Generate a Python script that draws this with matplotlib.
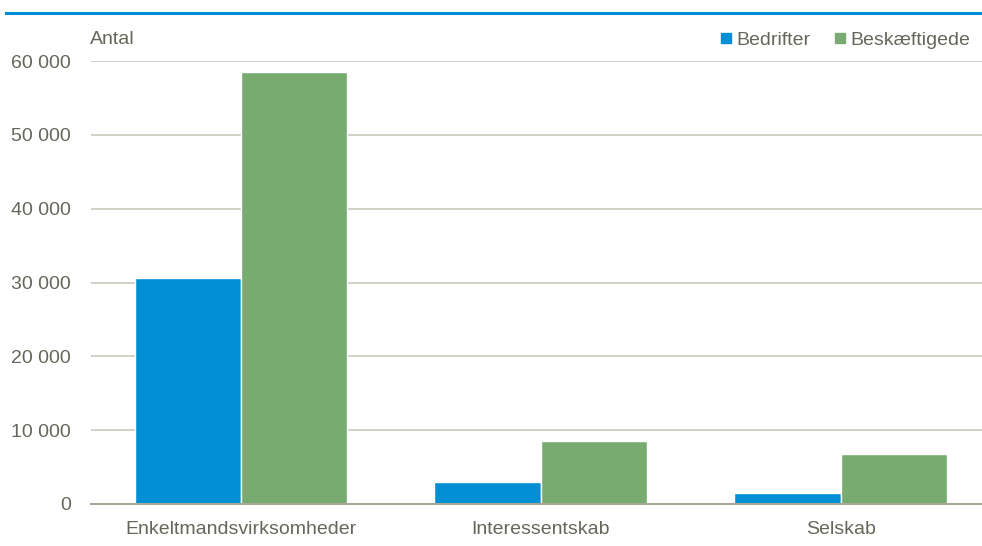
import matplotlib
matplotlib.use("Agg")
import matplotlib.pyplot as plt
from matplotlib.lines import Line2D
import numpy as np

categories = ["Enkeltmandsvirksomheder", "Interessentskab", "Selskab"]
bedrifter = [30600, 3000, 1500]
beskaeftigede = [58500, 8550, 6800]
yticks = [0, 10000, 20000, 30000, 40000, 50000, 60000]
ytick_labels = ["0", "10 000", "20 000", "30 000", "40 000", "50 000", "60 000"]

plt.rcParams['font.family'] = ['Liberation Sans Narrow', 'Liberation Sans', 'DejaVu Sans']

BLUE = "#008fd5"
GREEN = "#77ab70"
TXT = "#66665a"
GRID = "#c9c9bd"
FS = 14

W, H = 982, 546
fig = plt.figure(figsize=(W / 100, H / 100), dpi=100)
left, right = 91 / W, 982 / W
bottom, top = 1 - 504 / H, 1 - 61 / H
ax = fig.add_axes([left, bottom, right - left, top - bottom])

x = np.arange(len(categories))
bw = 0.355
ax.bar(x - bw / 2, bedrifter, bw, color=BLUE, edgecolor="white", linewidth=1.0, zorder=3)
ax.bar(x + bw / 2, beskaeftigede, bw, color=GREEN, edgecolor="white", linewidth=1.0, zorder=3)

ax.set_xlim(-0.5, -0.5 + (982 - 91) / 300)
ax.set_ylim(0, 60000)
ax.set_yticks(yticks)
ax.set_yticklabels(ytick_labels)
ax.set_xticks(x)
ax.set_xticklabels(categories)
ax.tick_params(axis="y", length=0, pad=14.4, labelsize=FS, labelcolor=TXT)
ax.tick_params(axis="x", length=0, pad=12.5, labelsize=FS, labelcolor=TXT)
ax.grid(axis="y", color=GRID, linewidth=1.2, zorder=0)
for s in ["top", "right", "left"]:
    ax.spines[s].set_visible(False)
ax.spines["bottom"].set_color("#a8a89a")
ax.spines["bottom"].set_linewidth(1.5)
ax.spines["bottom"].set_zorder(4)

fig.text(90 / W, 1 - 40 / H, "Antal", ha="left", va="center", fontsize=FS, color=TXT)

handles = [Line2D([], [], marker="s", linestyle="none", color=BLUE, markersize=7),
           Line2D([], [], marker="s", linestyle="none", color=GREEN, markersize=7)]
leg = fig.legend(handles, ["Bedrifter", "Beskæftigede"], loc="center right",
                 bbox_to_anchor=(988 / W, 1 - 40 / H), ncol=2, frameon=False,
                 fontsize=FS, handletextpad=0.05, columnspacing=1.0, handlelength=1.0)
for t in leg.get_texts():
    t.set_color(TXT)

fig.add_artist(Line2D([6 / W, 1], [1 - 12.5 / H, 1 - 12.5 / H], color=BLUE, linewidth=2.2))

fig.savefig("out.png", dpi=100)
